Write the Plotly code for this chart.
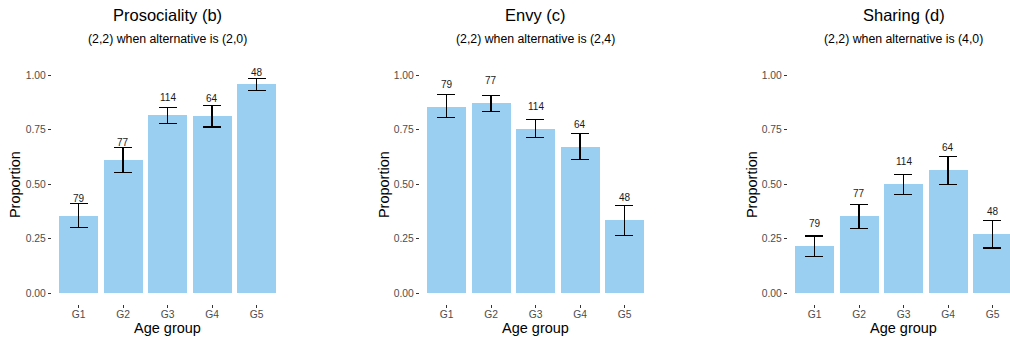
import plotly.graph_objects as go

# ---------------- data ----------------
groups = ["G1", "G2", "G3", "G4", "G5"]
counts = [79, 77, 114, 64, 48]

titles = ["Prosociality (b)", "Envy (c)", "Sharing (d)"]
subtitles = [
    "(2,2) when alternative is (2,0)",
    "(2,2) when alternative is (2,4)",
    "(2,2) when alternative is (4,0)",
]

prosociality = [0.355, 0.611, 0.818, 0.813, 0.960]
prosociality_lo = [0.300, 0.555, 0.780, 0.763, 0.929]
prosociality_hi = [0.410, 0.668, 0.851, 0.861, 0.986]

envy = [0.851, 0.873, 0.754, 0.671, 0.336]
envy_lo = [0.805, 0.832, 0.716, 0.613, 0.264]
envy_hi = [0.912, 0.908, 0.796, 0.731, 0.404]

sharing = [0.217, 0.355, 0.501, 0.566, 0.272]
sharing_lo = [0.170, 0.296, 0.454, 0.501, 0.208]
sharing_hi = [0.263, 0.406, 0.547, 0.627, 0.336]

y_tickvals = [0.0, 0.25, 0.5, 0.75, 1.0]
y_ticktext = ["0.00", "0.25", "0.50", "0.75", "1.00"]

# ---------------- layout constants ----------------
W, H = 1010, 339
BAR_COLOR = "#9ACFF2"
FONT = "Liberation Sans, Arial, Helvetica, sans-serif"
label_offsets = [0.08, 0.105, 0.105]
label_cap = 1.015

panels = [
    (prosociality, prosociality_lo, prosociality_hi),
    (envy, envy_lo, envy_hi),
    (sharing, sharing_lo, sharing_hi),
]

# pixel geometry of the three plot panels
panel_px = [(51.8, 283.2), (419.8, 651.2), (787.8, 1010.0)]
cat_px = 44.5  # pixels per category
y_top_px, y_bot_px = 64.4, 304.2
y_dom = [(H - y_bot_px) / H, (H - y_top_px) / H]

fig = go.Figure()
annotations = []

for i, (vals, lo, hi) in enumerate(panels):
    idx = "" if i == 0 else str(i + 1)
    xa, ya = "x" + idx, "y" + idx
    fig.add_trace(
        go.Bar(
            x=groups,
            y=vals,
            width=0.88,
            marker=dict(color=BAR_COLOR, line=dict(width=0)),
            error_y=dict(
                type="data",
                symmetric=False,
                array=[h - v for h, v in zip(hi, vals)],
                arrayminus=[v - l for v, l in zip(vals, lo)],
                color="black",
                thickness=1.1,
                width=9,
            ),
            xaxis=xa,
            yaxis=ya,
            showlegend=False,
            hoverinfo="skip",
        )
    )
    x0, x1 = panel_px[i]
    right_units = -0.6 + (x1 - x0) / cat_px
    axis_common = dict(
        showgrid=False,
        zeroline=False,
        showline=False,
        ticks="outside",
        ticklen=3,
        tickwidth=1,
        tickcolor="#333333",
        tickfont=dict(family=FONT, size=10.3, color="#4D4D4D"),
    )
    fig.layout["xaxis" + idx] = dict(
        domain=[x0 / W, x1 / W],
        range=[-0.6, right_units],
        anchor=ya,
        type="category",
        fixedrange=True,
        ticklabelstandoff=-3,
        **axis_common,
    )
    fig.layout["yaxis" + idx] = dict(
        domain=y_dom,
        range=[-0.05, 1.05],
        anchor=xa,
        tickvals=y_tickvals,
        ticktext=y_ticktext,
        fixedrange=True,
        **axis_common,
    )

    cx = ((x0 + (x0 + 5.2 * cat_px)) / 2) / W
    # titles
    annotations.append(dict(
        text=titles[i], x=cx, y=(H - 15) / H, xref="paper", yref="paper",
        showarrow=False, xanchor="center", yanchor="middle",
        font=dict(family=FONT, size=16.5, color="black"),
    ))
    annotations.append(dict(
        text=subtitles[i], x=cx, y=(H - 38.5) / H, xref="paper", yref="paper",
        showarrow=False, xanchor="center", yanchor="middle",
        font=dict(family=FONT, size=12.3, color="black"),
    ))
    # axis titles
    annotations.append(dict(
        text="Age group", x=cx, y=(H - 328) / H, xref="paper", yref="paper",
        showarrow=False, xanchor="center", yanchor="middle",
        font=dict(family=FONT, size=14.5, color="black"),
    ))
    annotations.append(dict(
        text="Proportion", x=(x0 - 36) / W, y=(H - 184.3) / H,
        xref="paper", yref="paper", textangle=-90,
        showarrow=False, xanchor="center", yanchor="middle",
        font=dict(family=FONT, size=14.5, color="black"),
    ))
    # count labels
    for g, v, n in zip(groups, vals, counts):
        annotations.append(dict(
            text=str(n), x=g, y=min(v + label_offsets[i], label_cap),
            xref=xa, yref=ya, showarrow=False,
            xanchor="center", yanchor="middle",
            font=dict(family=FONT, size=10, color="#1A1A1A"),
        ))

fig.update_layout(
    width=W,
    height=H,
    margin=dict(l=0, r=0, t=0, b=0),
    paper_bgcolor="white",
    plot_bgcolor="white",
    annotations=annotations,
    bargap=0,
)

fig.write_html(
    "out.html",
    config={"displayModeBar": False},
    post_script="document.body.style.margin='0';document.body.style.overflow='hidden';",
)
